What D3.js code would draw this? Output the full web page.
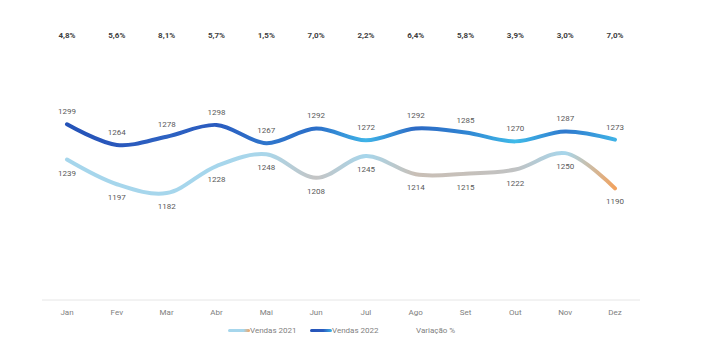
<!DOCTYPE html>
<html>
<head>
<meta charset="utf-8">
<script src="https://cdn.jsdelivr.net/npm/d3@7"></script>
<style>
  body { margin: 0; background: #fff; }
  text { font-family: Roboto, "Open Sans", sans-serif; }
</style>
</head>
<body>
<div id="chart"></div>
<script>
// data
var months = ['Jan', 'Fev', 'Mar', 'Abr', 'Mai', 'Jun', 'Jul', 'Ago', 'Set', 'Out', 'Nov', 'Dez'];
var vendas2021 = [1239, 1197, 1182, 1228, 1248, 1208, 1245, 1214, 1215, 1222, 1250, 1190];
var vendas2022 = [1299, 1264, 1278, 1298, 1267, 1292, 1272, 1292, 1285, 1270, 1287, 1273];
var variacao = ['4,8%', '5,6%', '8,1%', '5,7%', '1,5%', '7,0%', '2,2%', '6,4%', '5,8%', '3,9%', '3,0%', '7,0%'];

// colours along each line, per month
var colors2021 = ['#a6d6ec', '#a6d6ec', '#a6d6ec', '#a6d6ec', '#a9d6ea', '#c4c4c4', '#a6d6ec', '#c9bfb6', '#c6c0ba', '#c0c2c3', '#a6d6ec', '#f2a25e'];
var colors2022 = ['#2453b8', '#2a58bc', '#2d62c2', '#2a5bbf', '#2f76cc', '#2b6ec8', '#3fb4e8', '#2c69c4', '#2f84d2', '#40bbe9', '#2e78cd', '#3fb2e6'];

var width = 720, height = 363;
var svg = d3.select('#chart').append('svg')
  .attr('width', width)
  .attr('height', height);

var x = d3.scalePoint()
  .domain(months)
  .range([67, 615]);

var y = d3.scaleLinear()
  .domain([1000, 1400])
  .range([300, 65]);

// axis line
svg.append('line')
  .attr('x1', 42).attr('x2', 640)
  .attr('y1', y(1000)).attr('y2', y(1000))
  .attr('stroke', '#e6e6e6')
  .attr('stroke-width', 1);

// month labels
svg.selectAll('.month')
  .data(months)
  .enter().append('text')
  .attr('class', 'month')
  .attr('x', (d) => x(d))
  .attr('y', 315)
  .attr('text-anchor', 'middle')
  .attr('fill', '#808080')
  .style('font-size', '8px')
  .text((d) => d);

// gradients along x
var defs = svg.append('defs');
function makeGradient(id, cols) {
  var g = defs.append('linearGradient')
    .attr('id', id)
    .attr('gradientUnits', 'userSpaceOnUse')
    .attr('x1', x(months[0])).attr('x2', x(months[months.length - 1]))
    .attr('y1', 0).attr('y2', 0);
  cols.forEach((c, i) => {
    g.append('stop')
      .attr('offset', i / (cols.length - 1))
      .attr('stop-color', c);
  });
}
makeGradient('grad2021', colors2021);
makeGradient('grad2022', colors2022);

var line = d3.line()
  .x((d, i) => x(months[i]))
  .y((d) => y(d))
  .curve(d3.curveCatmullRom.alpha(0.5));

svg.append('path')
  .datum(vendas2021)
  .attr('d', line)
  .attr('fill', 'none')
  .attr('stroke', 'url(#grad2021)')
  .attr('stroke-width', 4)
  .attr('stroke-linecap', 'round');

svg.append('path')
  .datum(vendas2022)
  .attr('d', line)
  .attr('fill', 'none')
  .attr('stroke', 'url(#grad2022)')
  .attr('stroke-width', 4)
  .attr('stroke-linecap', 'round');

// data labels
svg.selectAll('.lab2021')
  .data(vendas2021)
  .enter().append('text')
  .attr('class', 'lab2021')
  .attr('x', (d, i) => x(months[i]))
  .attr('y', (d) => y(d) + 16)
  .attr('text-anchor', 'middle')
  .attr('fill', '#595959')
  .style('font-size', '8px')
  .text((d) => d);

svg.selectAll('.lab2022')
  .data(vendas2022)
  .enter().append('text')
  .attr('class', 'lab2022')
  .attr('x', (d, i) => x(months[i]))
  .attr('y', (d) => y(d) - 10)
  .attr('text-anchor', 'middle')
  .attr('fill', '#595959')
  .style('font-size', '8px')
  .text((d) => d);

// variation labels
svg.selectAll('.var')
  .data(variacao)
  .enter().append('text')
  .attr('class', 'var')
  .attr('x', (d, i) => x(months[i]))
  .attr('y', 38)
  .attr('text-anchor', 'middle')
  .attr('fill', '#404040')
  .style('font-size', '8px')
  .style('font-weight', 'bold')
  .text((d) => d);

// legend
var legGrad1 = defs.append('linearGradient').attr('id', 'leg2021');
legGrad1.append('stop').attr('offset', 0).attr('stop-color', '#a6d6ec');
legGrad1.append('stop').attr('offset', 0.7).attr('stop-color', '#a6d6ec');
legGrad1.append('stop').attr('offset', 1).attr('stop-color', '#f2a25e');
var legGrad2 = defs.append('linearGradient').attr('id', 'leg2022');
legGrad2.append('stop').attr('offset', 0).attr('stop-color', '#2453b8');
legGrad2.append('stop').attr('offset', 0.6).attr('stop-color', '#2a5bbf');
legGrad2.append('stop').attr('offset', 1).attr('stop-color', '#3fb4e8');

var legend = [
  {name: 'Vendas 2021', stroke: 'url(#leg2021)', x: 228},
  {name: 'Vendas 2022', stroke: 'url(#leg2022)', x: 310},
  {name: 'Variação %', stroke: null, x: 416}
];
legend.forEach((d) => {
  if (d.stroke) {
    svg.append('rect')
      .attr('x', d.x).attr('y', 329)
      .attr('width', 22).attr('height', 3)
      .attr('rx', 1.5)
      .attr('fill', d.stroke);
  }
  svg.append('text')
    .attr('x', d.stroke ? d.x + 22 : d.x)
    .attr('y', 333)
    .attr('fill', '#7f7f7f')
    .style('font-size', '8px')
    .text(d.name);
});
</script>
</body>
</html>
